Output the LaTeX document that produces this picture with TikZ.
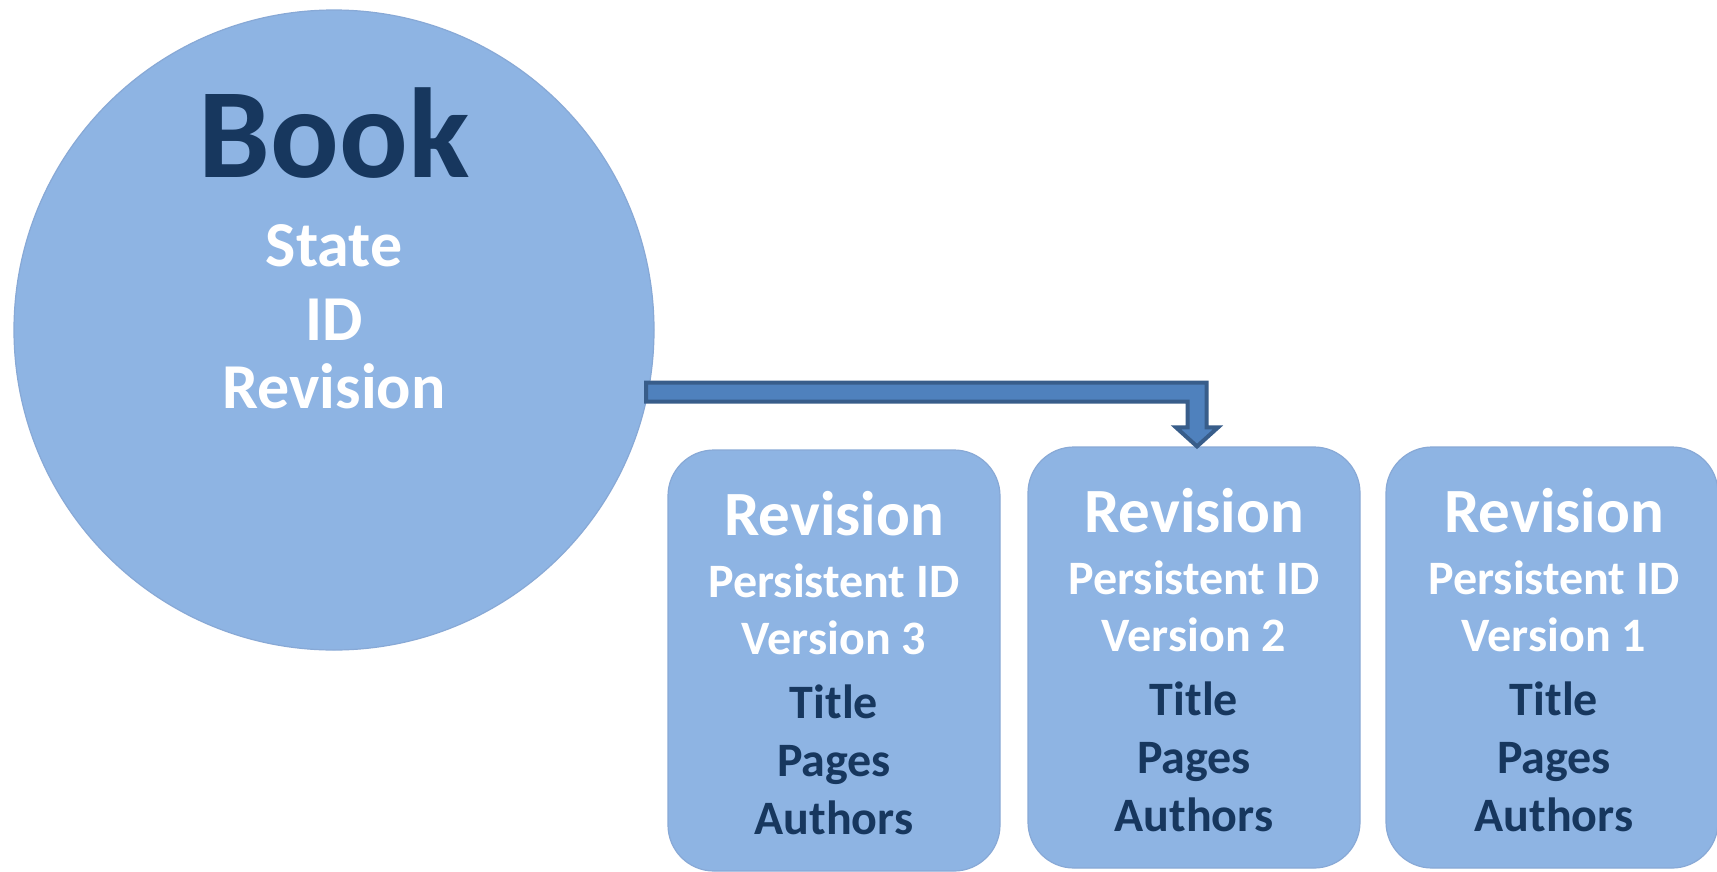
\documentclass[tikz,border=0pt]{standalone}
\usepackage{fontspec}
\setmainfont{Carlito}
\usetikzlibrary{calc}
\definecolor{boxfill}{HTML}{8EB4E3}
\definecolor{boxedge}{HTML}{88A9D6}
\definecolor{navy}{HTML}{17375E}
\definecolor{arrfill}{HTML}{4F81BD}
\definecolor{arredge}{HTML}{385D8A}
\begin{document}
\begin{tikzpicture}[x=1pt,y=-1pt,
  shapebox/.style={draw=boxedge,line width=1.2pt,fill=boxfill,inner sep=0pt},
  revbox/.style={shapebox,rectangle,rounded corners=46pt,minimum width=332pt,minimum height=421pt},
  wtxt/.style={anchor=base,inner sep=0pt,text=white,font=\bfseries\fontsize{#1}{#1}\selectfont},
  dtxt/.style={anchor=base,inner sep=0pt,text=navy,font=\bfseries\fontsize{#1}{#1}\selectfont},
  bigarrow/.style={fill=arrfill,draw=arredge,line width=4pt,line join=miter}]
\fill[white] (0,0) rectangle (1717,871);
\useasboundingbox (0,0) rectangle (1717,871);
\clip (0,0) rectangle (1717,871);
% book circle
\node[shapebox,circle,minimum size=640pt] (book) at (334,330) {};
\node[dtxt=128] (booktitle) at (334,177) {Book};
\node[wtxt=64] (bstate) at (334,266) {State};
\node[wtxt=64] (bid) at (334,340) {ID};
\node[wtxt=64] (brev) at (334,408) {Revision};
% revision boxes
\node[revbox] (r3) at (834,660.5) {};
\node[revbox] (r2) at (1194,657.5) {};
\node[revbox] (r1) at (1552,657.5) {};
\foreach \n/\x/\dy/\v in {r3/834/0/3, r2/1194/-3/2, r1/1554/-3/1}{
  \node[wtxt=63] (\n-a) at (\x,535+\dy) {Revision};
  \node[wtxt=48] (\n-b) at (\x,597+\dy) {Persistent ID};
  \node[wtxt=48] (\n-c) at (\x,654+\dy) {Version \v};
  \node[dtxt=48] (\n-d) at (\x,718+\dy) {Title};
  \node[dtxt=48] (\n-e) at (\x,776+\dy) {Pages};
  \node[dtxt=48] (\n-f) at (\x,834+\dy) {Authors};
}
% connector
\coordinate (tip) at ($(r2.north)+(3,0)$);
\coordinate (start) at (646,392);
\draw[bigarrow]
  ($(start)+(0,-9.5)$) -- ($(tip|-start)+(9.5,-9.5)$) -- ($(tip)+(9.5,-19)$)
  -- ($(tip)+(21,-19)$) -- (tip) -- ($(tip)+(-21,-19)$) -- ($(tip)+(-9.5,-19)$)
  -- ($(tip|-start)+(-9.5,9.5)$) -- ($(start)+(0,9.5)$) -- cycle;
\end{tikzpicture}
\end{document}
